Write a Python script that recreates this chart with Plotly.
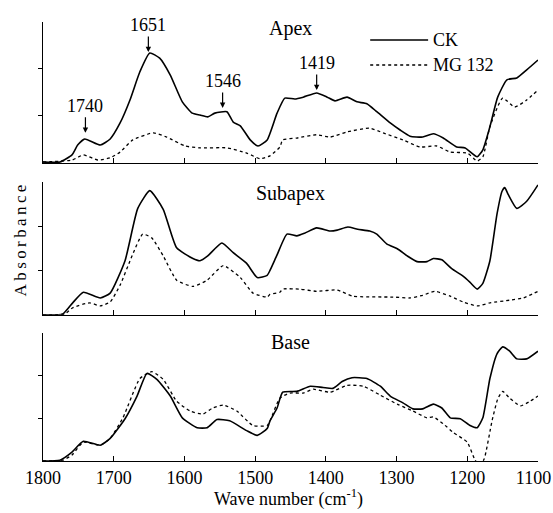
import plotly.graph_objects as go

# ---------------- data ----------------
apex_ck_wn = [1800, 1776, 1759, 1751, 1741, 1719, 1705, 1691, 1677, 1663, 1649, 1635, 1620, 1603, 1589, 1578, 1567, 1557, 1540, 1531, 1521, 1507, 1496, 1483, 1469, 1458, 1444, 1432, 1413, 1398, 1387, 1370, 1356, 1342, 1328, 1309, 1295, 1281, 1263, 1248, 1234, 1215, 1203, 1186, 1178, 1168, 1157, 1144, 1130, 1116, 1100]
apex_ck = [0.02, 0.02, 0.17, 0.38, 0.51, 0.38, 0.51, 0.85, 1.34, 1.94, 2.34, 2.23, 1.87, 1.30, 1.06, 1.02, 0.98, 1.06, 1.09, 0.87, 0.79, 0.49, 0.36, 0.49, 1.06, 1.38, 1.36, 1.40, 1.49, 1.40, 1.32, 1.40, 1.30, 1.26, 1.09, 0.85, 0.70, 0.57, 0.55, 0.62, 0.53, 0.34, 0.32, 0.13, 0.28, 0.77, 1.40, 1.77, 1.81, 1.98, 2.19]

apex_mg_wn = [1800, 1759, 1743, 1722, 1705, 1691, 1673, 1644, 1625, 1599, 1578, 1540, 1512, 1493, 1479, 1465, 1461, 1441, 1413, 1394, 1370, 1338, 1319, 1291, 1267, 1243, 1224, 1200, 1186, 1178, 1168, 1150, 1133, 1116, 1100]
apex_mg = [0.02, 0.06, 0.17, 0.06, 0.11, 0.23, 0.49, 0.64, 0.55, 0.36, 0.32, 0.32, 0.21, 0.09, 0.15, 0.34, 0.49, 0.53, 0.60, 0.55, 0.66, 0.74, 0.64, 0.49, 0.34, 0.36, 0.23, 0.21, 0.04, 0.13, 0.77, 1.38, 1.19, 1.34, 1.55]

sub_ck_wn = [1800, 1772, 1758, 1743, 1719, 1705, 1684, 1666, 1649, 1630, 1611, 1588, 1578, 1567, 1547, 1531, 1512, 1497, 1483, 1479, 1469, 1455, 1441, 1430, 1413, 1394, 1384, 1369, 1355, 1338, 1328, 1314, 1299, 1285, 1271, 1257, 1248, 1236, 1222, 1206, 1196, 1186, 1178, 1168, 1158, 1151, 1147, 1142, 1130, 1116, 1100]
sub_ck = [0.0, 0.02, 0.27, 0.51, 0.38, 0.49, 1.22, 2.40, 2.80, 2.38, 1.51, 1.27, 1.22, 1.33, 1.62, 1.40, 1.16, 0.84, 0.89, 1.00, 1.35, 1.82, 1.78, 1.84, 1.96, 1.89, 1.91, 1.98, 1.93, 1.89, 1.82, 1.60, 1.49, 1.33, 1.20, 1.20, 1.27, 1.24, 1.04, 0.87, 0.73, 0.58, 0.71, 1.22, 2.27, 2.78, 2.87, 2.71, 2.40, 2.56, 2.93]

sub_mg_wn = [1800, 1769, 1758, 1734, 1719, 1705, 1691, 1674, 1659, 1646, 1630, 1611, 1588, 1568, 1545, 1521, 1503, 1483, 1479, 1465, 1461, 1437, 1413, 1384, 1362, 1305, 1281, 1263, 1246, 1224, 1206, 1186, 1168, 1140, 1121, 1100]
sub_mg = [0.0, 0.02, 0.16, 0.27, 0.20, 0.29, 0.67, 1.33, 1.82, 1.73, 1.33, 0.78, 0.64, 0.78, 1.11, 0.84, 0.49, 0.40, 0.46, 0.51, 0.58, 0.58, 0.53, 0.56, 0.42, 0.40, 0.38, 0.44, 0.53, 0.42, 0.29, 0.20, 0.27, 0.33, 0.38, 0.53]

base_ck_wn = [1800, 1776, 1759, 1743, 1719, 1705, 1684, 1667, 1653, 1639, 1620, 1603, 1582, 1568, 1554, 1536, 1512, 1497, 1483, 1479, 1469, 1461, 1441, 1422, 1404, 1390, 1377, 1363, 1342, 1323, 1309, 1291, 1277, 1263, 1248, 1236, 1224, 1210, 1196, 1186, 1178, 1168, 1158, 1150, 1140, 1130, 1116, 1100]
base_ck = [0.0, 0.02, 0.21, 0.46, 0.37, 0.53, 0.99, 1.52, 2.05, 1.91, 1.52, 1.01, 0.78, 0.78, 0.97, 0.94, 0.71, 0.60, 0.76, 0.94, 1.24, 1.61, 1.63, 1.75, 1.72, 1.70, 1.86, 1.95, 1.93, 1.75, 1.52, 1.36, 1.22, 1.22, 1.33, 1.24, 1.01, 0.99, 0.83, 0.78, 1.01, 1.93, 2.51, 2.67, 2.57, 2.39, 2.39, 2.57]

base_mg_wn = [1800, 1772, 1759, 1743, 1719, 1705, 1687, 1663, 1646, 1630, 1611, 1592, 1574, 1560, 1545, 1526, 1503, 1483, 1479, 1465, 1451, 1432, 1418, 1394, 1370, 1347, 1323, 1299, 1277, 1257, 1248, 1234, 1220, 1200, 1189, 1182, 1176, 1165, 1157, 1150, 1140, 1125, 1111, 1100]
base_mg = [0.0, 0.02, 0.14, 0.44, 0.37, 0.53, 1.01, 1.93, 2.09, 1.91, 1.40, 1.17, 1.10, 1.24, 1.31, 1.17, 0.83, 0.83, 0.94, 1.47, 1.59, 1.59, 1.68, 1.61, 1.77, 1.75, 1.54, 1.33, 1.17, 1.01, 1.03, 0.87, 0.67, 0.44, 0.02, -0.10, 0.05, 0.94, 1.45, 1.63, 1.47, 1.29, 1.40, 1.52]

panel_names = ["Apex", "Subapex", "Base"]
series_names = ["CK", "MG 132"]
tick_vals = [1800, 1700, 1600, 1500, 1400, 1300, 1200, 1100]
tick_text = ["1800", "1700", "1600", "1500", "1400", "1300", "1200", "1100\u2002"]
peak_wn = [1740, 1651, 1546, 1413]
peak_labels = ["1740", "1651", "1546", "1419"]
peak_tip = [0.64, 2.36, 1.17, 1.55]

# ---------------- figure ----------------
FONT = "Liberation Serif, Times New Roman, serif"
fig = go.Figure()

panels = [(apex_ck_wn, apex_ck, apex_mg_wn, apex_mg),
          (sub_ck_wn, sub_ck, sub_mg_wn, sub_mg),
          (base_ck_wn, base_ck, base_mg_wn, base_mg)]
for i, (xc, yc, xm, ym) in enumerate(panels):
    sfx = "" if i == 0 else str(i + 1)
    fig.add_trace(go.Scatter(x=xc, y=yc, mode="lines", name=series_names[0],
                             line=dict(color="black", width=1.6, shape="spline", smoothing=0.5),
                             xaxis="x" + sfx, yaxis="y" + sfx, showlegend=False))
    fig.add_trace(go.Scatter(x=xm, y=ym, mode="lines", name=series_names[1],
                             line=dict(color="black", width=1.3, dash="3px,3px",
                                       shape="spline", smoothing=0.5),
                             xaxis="x" + sfx, yaxis="y" + sfx, showlegend=False))

domains = [[0.679, 1.0], [0.333, 0.636], [0.0, 0.292]]
layout = dict(
    width=553, height=513,
    margin=dict(l=43, r=15, t=22, b=52, autoexpand=False),
    paper_bgcolor="white", plot_bgcolor="white",
    font=dict(family=FONT, size=18, color="black"),
)
for i in range(3):
    sfx = "" if i == 0 else str(i + 1)
    layout["xaxis" + sfx] = dict(
        domain=[0, 1], anchor="y" + sfx, range=[1800, 1100],
        tickvals=tick_vals, ticktext=tick_text, ticks="inside", ticklen=5, tickcolor="black",
        showticklabels=(i == 2), showline=True, linecolor="black", linewidth=1,
        showgrid=False, zeroline=False, ticklabeloverflow="allow", automargin=False,
        tickfont=dict(family=FONT, size=18, color="black"),
    )
    layout["yaxis" + sfx] = dict(
        domain=domains[i], anchor="x" + sfx, range=[0, 3.0],
        tickvals=[1, 2], ticks="outside", ticklen=4, tickcolor="black",
        showticklabels=False, showline=True, linecolor="black", linewidth=1,
        showgrid=False, zeroline=False, automargin=False,
    )
fig.update_layout(**layout)

# panel titles
title_y = [0.986, 0.610, 0.271]
for name, ty in zip(panel_names, title_y):
    fig.add_annotation(text=name, xref="paper", yref="paper", x=0.499, y=ty,
                       xanchor="center", yanchor="middle",
                       showarrow=False, font=dict(family=FONT, size=20))

# peak labels with arrows (Apex panel)
for wn, lab, tip in zip(peak_wn, peak_labels, peak_tip):
    fig.add_annotation(text=lab, x=wn, y=tip, xref="x", yref="y",
                       showarrow=True, ax=0, ay=-27, arrowhead=2, arrowsize=0.9,
                       arrowwidth=1.2, arrowcolor="black", standoff=0,
                       font=dict(family=FONT, size=18))

# legend (manual, drawn in paper space)
leg_y = [0.959, 0.902]
leg_dash = ["solid", "3px,3px"]
for name, ly, d in zip(series_names, leg_y, leg_dash):
    fig.add_shape(type="line", xref="paper", yref="paper", x0=0.661, x1=0.778,
                  y0=ly, y1=ly, line=dict(color="black", width=1.3, dash=d))
    fig.add_annotation(text=name, xref="paper", yref="paper", x=0.784, y=ly,
                       xanchor="left", yanchor="middle", showarrow=False,
                       font=dict(family=FONT, size=18))

# axis titles
fig.add_annotation(text="A\u2009b\u2009s\u2009o\u2009r\u2009b\u2009a\u2009n\u2009c\u2009e",
                   xref="paper", yref="paper", x=-0.046, y=0.503, textangle=-90,
                   xanchor="center", yanchor="middle",
                   showarrow=False, font=dict(family=FONT, size=17))
fig.add_annotation(text="Wave number (cm<sup>-1</sup>)", xref="paper", yref="paper",
                   x=0.495, y=-0.084, xanchor="center", yanchor="middle",
                   showarrow=False, font=dict(family=FONT, size=18))

fig.write_html("out.html", config={"displayModeBar": False},
               post_script="document.body.style.margin='0';")
